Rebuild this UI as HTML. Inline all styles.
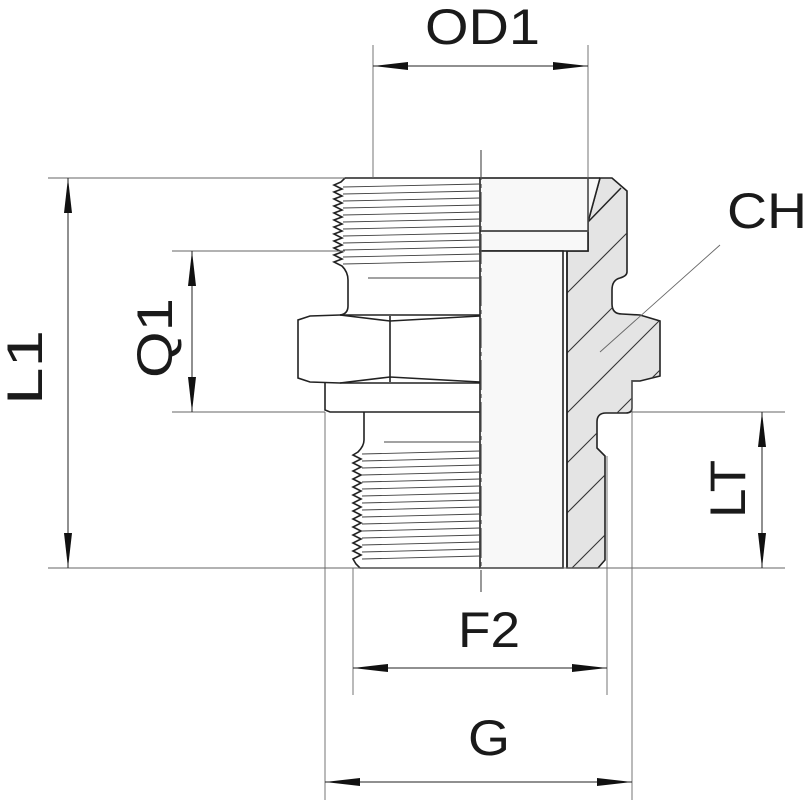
<!DOCTYPE html>
<html><head><meta charset="utf-8"><style>
html,body{margin:0;padding:0;background:#fff;}
svg{display:block}
text{font-family:"Liberation Sans",sans-serif;font-size:50px;fill:#1a1a1a;}
</style></head><body>
<svg width="807" height="800" viewBox="0 0 807 800" xmlns="http://www.w3.org/2000/svg">
<defs>
<clipPath id="sec"><path d="M600,178 L612,178 L627,191 L627,272 Q627,276 620,278 Q612,280 612,290 L612,304 Q612,314 622,314 L640,315 L660,321 L660,376 L640,381 L632,381 L632,408 Q632,413 626,413 L606,413 Q597,413 597,422 L597,448 L605,456 L605,560 L598,568 L567,568 L567,251 L588,251 L588,222 Z"/></clipPath>
</defs>
<path d="M600,178 L612,178 L627,191 L627,272 Q627,276 620,278 Q612,280 612,290 L612,304 Q612,314 622,314 L640,315 L660,321 L660,376 L640,381 L632,381 L632,408 Q632,413 626,413 L606,413 Q597,413 597,422 L597,448 L605,456 L605,560 L598,568 L567,568 L567,251 L588,251 L588,222 Z" fill="#e4e4e4" stroke="#222" stroke-width="1.6"/>
<g clip-path="url(#sec)" stroke="#333" stroke-width="1.1">
<line x1="560" y1="300" x2="640" y2="220"/>
<line x1="560" y1="360" x2="680" y2="240"/>
<line x1="560" y1="420" x2="700" y2="280"/>
<line x1="560" y1="470" x2="700" y2="330"/>
<line x1="560" y1="520" x2="700" y2="380"/>
<line x1="560" y1="580" x2="700" y2="440"/>
<line x1="588" y1="222" x2="621" y2="188" stroke="#222" stroke-width="1.5"/>
</g>
<path d="M588,222 L600,178 L588,178 Z" fill="#f8f8f8"/>
<line x1="588" y1="178" x2="600" y2="178" stroke="#222" stroke-width="1.6"/>
<line x1="600" y1="178" x2="588" y2="222" stroke="#222" stroke-width="1.5"/>
<rect x="480" y="178" width="108" height="73" fill="#f8f8f8" stroke="#222" stroke-width="1.6"/>
<line x1="480" y1="231" x2="588" y2="231" stroke="#222" stroke-width="1.6"/>
<rect x="480" y="251" width="83" height="317" fill="#f8f8f8" stroke="#222" stroke-width="1.6"/>
<line x1="567" y1="251" x2="567" y2="568" stroke="#222" stroke-width="1.6"/>
<g fill="none" stroke="#222" stroke-width="1.6">
<path d="M480,178 L345,178 L341,182 L334,185 L342,189 L334,192 L342,196 L334,199 L342,203 L334,206 L342,210 L334,213 L342,217 L334,220 L342,224 L334,227 L342,231 L334,234 L342,238 L334,241 L342,245 L334,248 L342,252 L334,255 L342,259 L334,262 L342,266 Q348,272 348,280 L348,306 Q348,314 340,315"/>
<path d="M340,315 L310,316 L298,320 L298,378 L310,382 L340,383 L480,383"/>
<path d="M340,315 L480,315"/>
<line x1="390" y1="316" x2="390" y2="382"/>
<path d="M340,315 L390,321 L480,316"/>
<path d="M340,383 L390,377 L480,382"/>
<path d="M325,383 L325,410 L330,412 L480,412"/>
<path d="M364,412 L364,440 Q364,446 358,452 L353,455 L361,459 L353,463 L361,467 L353,471 L361,475 L353,479 L361,483 L353,487 L361,491 L353,495 L361,499 L353,503 L361,507 L353,511 L361,515 L353,519 L361,523 L353,527 L361,531 L353,535 L361,539 L353,543 L361,547 L353,551 L361,555 L353,559 L356,564 L360,568 L480,568"/>
</g>
<g stroke="#444" stroke-width="0.9">
<line x1="343" y1="187" x2="480" y2="184"/><line x1="343" y1="194" x2="480" y2="191"/>
<line x1="343" y1="201" x2="480" y2="198"/><line x1="343" y1="208" x2="480" y2="205"/>
<line x1="343" y1="215" x2="480" y2="212"/><line x1="343" y1="222" x2="480" y2="219"/>
<line x1="343" y1="229" x2="480" y2="226"/><line x1="343" y1="236" x2="480" y2="233"/>
<line x1="343" y1="243" x2="480" y2="240"/><line x1="343" y1="250" x2="480" y2="247"/>
<line x1="343" y1="257" x2="480" y2="254"/><line x1="343" y1="264" x2="480" y2="261"/>
<line x1="368" y1="278" x2="480" y2="278"/>
<line x1="384" y1="442" x2="480" y2="442"/>
<line x1="362" y1="454" x2="480" y2="451"/><line x1="362" y1="461" x2="480" y2="458"/>
<line x1="362" y1="468" x2="480" y2="465"/><line x1="362" y1="475" x2="480" y2="472"/>
<line x1="362" y1="482" x2="480" y2="479"/><line x1="362" y1="489" x2="480" y2="486"/>
<line x1="362" y1="496" x2="480" y2="493"/><line x1="362" y1="503" x2="480" y2="500"/>
<line x1="362" y1="510" x2="480" y2="507"/><line x1="362" y1="517" x2="480" y2="514"/>
<line x1="362" y1="524" x2="480" y2="521"/><line x1="362" y1="531" x2="480" y2="528"/>
<line x1="362" y1="538" x2="480" y2="535"/><line x1="362" y1="545" x2="480" y2="542"/>
<line x1="362" y1="552" x2="480" y2="549"/><line x1="362" y1="559" x2="480" y2="556"/>
</g>
<line x1="481" y1="150" x2="481" y2="592" stroke="#555" stroke-width="1.2" stroke-dasharray="30,4,4,4"/>
<g stroke="#666" stroke-width="0.9">
<line x1="48" y1="178" x2="345" y2="178"/>
<line x1="48" y1="568" x2="785" y2="568"/>
<line x1="172" y1="251" x2="345" y2="251"/>
<line x1="172" y1="412" x2="325" y2="412"/>
<line x1="632" y1="412" x2="785" y2="412"/>
<line x1="373" y1="45" x2="373" y2="178"/>
<line x1="588" y1="45" x2="588" y2="232"/>
<line x1="353" y1="568" x2="353" y2="695"/>
<line x1="607" y1="456" x2="607" y2="695"/>
<line x1="325" y1="412" x2="325" y2="800"/>
<line x1="632" y1="381" x2="632" y2="800"/>
<line x1="720" y1="245" x2="600" y2="352"/>
</g>
<g stroke="#222" stroke-width="1">
<line x1="373" y1="66" x2="588" y2="66"/>
<line x1="68" y1="178" x2="68" y2="568"/>
<line x1="192" y1="251" x2="192" y2="412"/>
<line x1="762" y1="412" x2="762" y2="568"/>
<line x1="353" y1="668" x2="607" y2="668"/>
<line x1="325" y1="782" x2="632" y2="782"/>
</g>
<g fill="#111">
<path d="M373,66 L408,62 L408,70Z"/><path d="M588,66 L553,62 L553,70Z"/>
<path d="M68,178 L64,213 L72,213Z"/><path d="M68,568 L64,533 L72,533Z"/>
<path d="M192,251 L188,286 L196,286Z"/><path d="M192,412 L188,377 L196,377Z"/>
<path d="M762,412 L758,447 L766,447Z"/><path d="M762,568 L758,533 L766,533Z"/>
<path d="M353,668 L388,664 L388,672Z"/><path d="M607,668 L572,664 L572,672Z"/>
<path d="M325,782 L360,778 L360,786Z"/><path d="M632,782 L597,778 L597,786Z"/>
</g>
<text x="425" y="44" textLength="115" lengthAdjust="spacingAndGlyphs">OD1</text>
<text x="727" y="228" textLength="80" lengthAdjust="spacingAndGlyphs">CH</text>
<text x="458" y="647" textLength="62" lengthAdjust="spacingAndGlyphs">F2</text>
<text x="468" y="755" textLength="42" lengthAdjust="spacingAndGlyphs">G</text>
<text transform="translate(42,405) rotate(-90)" textLength="75" lengthAdjust="spacingAndGlyphs">L1</text>
<text transform="translate(172,378) rotate(-90)" textLength="80" lengthAdjust="spacingAndGlyphs">Q1</text>
<text transform="translate(745,518) rotate(-90)" textLength="58" lengthAdjust="spacingAndGlyphs">LT</text>
</svg>
</body></html>
